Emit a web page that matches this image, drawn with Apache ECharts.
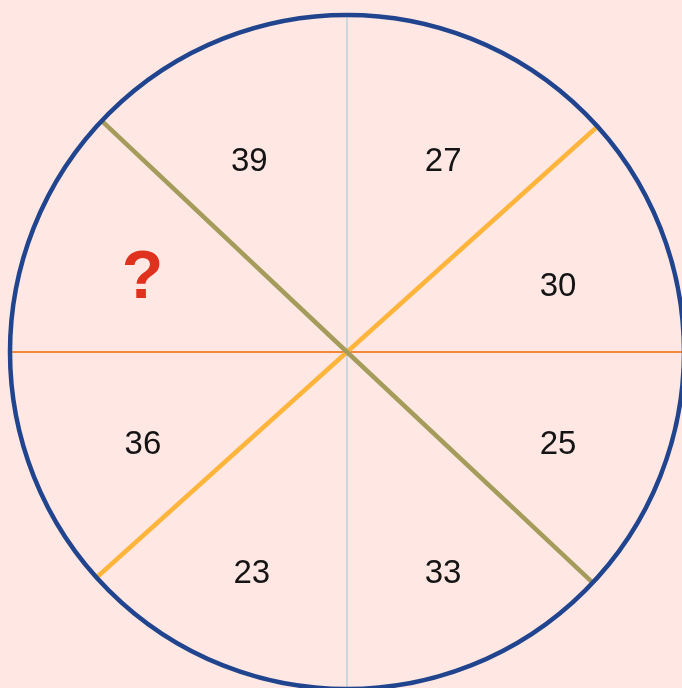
<!DOCTYPE html>
<html>
<head>
<meta charset="utf-8">
<script src="https://cdn.jsdelivr.net/npm/echarts@6/dist/echarts.min.js"></script>
<style>
html, body { margin: 0; padding: 0; background: #ffe8e3; }
#main { width: 682px; height: 688px; }
</style>
</head>
<body>
<div id="main"></div>
<script>
// 圆内8个扇区的数字（?为待求）
var cellLabels = ['27', '30', '25', '33', '23', '36', '?', '39'];
var cellAngles = [63.4, 17.6, 336.7, 293.6, 246.6, 204.0, 159.4, 116.9];
var cellRadius = [214.7, 221.4, 229.8, 240.0, 239.6, 223.4, 218.5, 215.8];

// 分割线: [起点角度, 终点角度]
var cutHorizontal = [0, 180];
var cutVertical = [90, 270];
var cutOlive = [136.7, 316.8];
var cutOrange = [42, 222];

var R = 337;

var myChart = echarts.init(document.getElementById('main'));

function cut(a) {
	return [[R, a[0]], [0, a[0]], [R, a[1]]];
}

var cellData = cellLabels.map(function (t, i) {
	return {
		value: [cellRadius[i], cellAngles[i]],
		name: t,
		label: t === '?' ? {
			color: '#e0301e',
			fontSize: 68,
			fontWeight: 'bold',
			offset: [0, 4]
		} : {}
	};
});

var option = {
	backgroundColor: '#ffe8e3',
	animation: false,
	polar: {
		center: [347, 352],
		radius: R
	},
	angleAxis: {
		type: 'value',
		min: 0,
		max: 360,
		startAngle: 0,
		clockwise: false,
		z: 10,
		axisLine: {
			show: true,
			lineStyle: { color: '#21448e', width: 4.5 }
		},
		axisTick: { show: false },
		axisLabel: { show: false },
		splitLine: { show: false }
	},
	radiusAxis: {
		type: 'value',
		min: 0,
		max: R,
		show: false,
		splitLine: { show: false }
	},
	series: [
		{
			type: 'line',
			coordinateSystem: 'polar',
			symbol: 'none',
			data: cut(cutVertical),
			lineStyle: { color: '#98c6de', width: 1 },
			z: 1
		},
		{
			type: 'line',
			coordinateSystem: 'polar',
			symbol: 'none',
			data: cut(cutHorizontal),
			lineStyle: { color: '#f06a00', width: 1.4 },
			z: 1
		},
		{
			type: 'line',
			coordinateSystem: 'polar',
			symbol: 'none',
			data: cut(cutOrange),
			lineStyle: { color: '#ffb43c', width: 4.5 },
			z: 2
		},
		{
			type: 'line',
			coordinateSystem: 'polar',
			symbol: 'none',
			data: cut(cutOlive),
			lineStyle: { color: '#a59c5c', width: 4.5 },
			z: 3
		},
		{
			type: 'scatter',
			coordinateSystem: 'polar',
			symbolSize: 1,
			itemStyle: { color: 'transparent', opacity: 1 },
			z: 5,
			label: {
				show: true,
				position: 'inside',
				formatter: '{b}',
				color: '#141414',
				fontSize: 33,
				offset: [0, 2],
				fontFamily: 'Liberation Sans, Arial, sans-serif'
			},
			data: cellData
		}
	]
};
myChart.setOption(option, true);
</script>
</body>
</html>
